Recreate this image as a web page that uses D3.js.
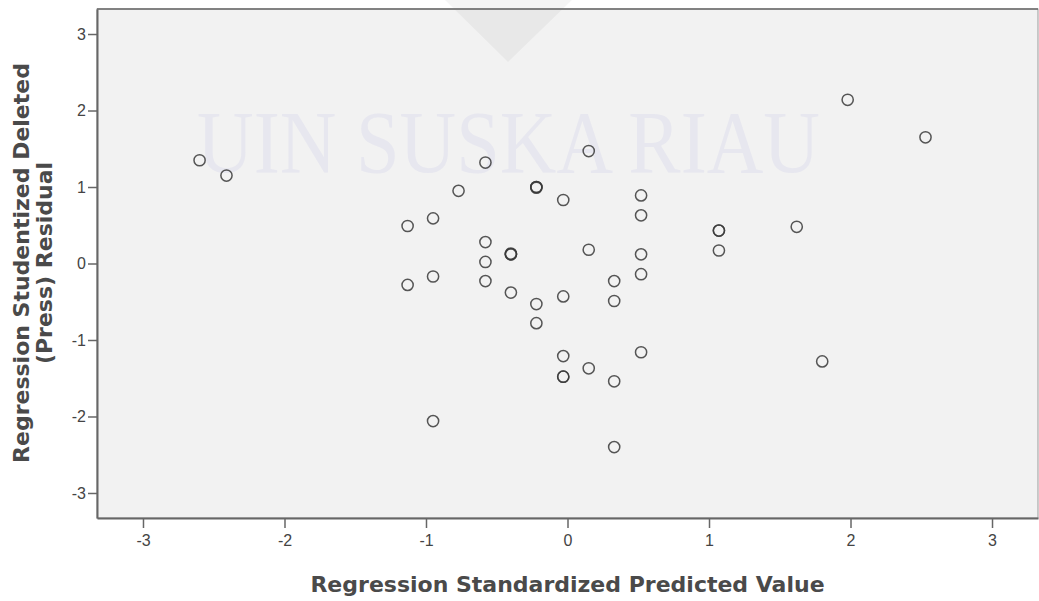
<!DOCTYPE html>
<html>
<head>
<meta charset="utf-8">
<script src="https://cdn.jsdelivr.net/npm/d3@7"></script>
<style>
  body { margin: 0; background: #fff; }
  svg { display: block; }
</style>
</head>
<body>
<script>
//Width and height
const w = 1039;
const h = 601;

//Predicted values (x) and deleted residuals (y)
var predicted = [-2.60, -2.41, -1.13, -1.13, -0.95, -0.95, -0.95, -0.77,
                 -0.58, -0.58, -0.58, -0.58, -0.40, -0.40, -0.40,
                 -0.22, -0.22, -0.22, -0.22, -0.03, -0.03, -0.03, -0.03, -0.03,
                 0.15, 0.15, 0.15, 0.33, 0.33, 0.33, 0.33,
                 0.52, 0.52, 0.52, 0.52, 0.52, 1.07, 1.07, 1.62, 1.80, 1.98, 2.53,
                 -0.22, -0.40, 1.07];
var residual  = [1.35, 1.15, 0.49, -0.28, 0.59, -0.17, -2.06, 0.95,
                 1.32, 0.28, 0.02, -0.23, 0.12, -0.38, 0.12,
                 1.00, -0.53, -0.78, 1.00, 0.83, -0.43, -1.21, -1.48, -1.48,
                 1.47, 0.18, -1.37, -0.23, -0.49, -1.54, -2.40,
                 0.89, 0.63, 0.12, -0.14, -1.16, 0.43, 0.17, 0.48, -1.28, 2.14, 1.65,
                 0.99, 0.13, 0.43];

var xTicks = [-3, -2, -1, 0, 1, 2, 3];
var yTicks = [-3, -2, -1, 0, 1, 2, 3];

var xTitle = "Regression Standardized Predicted Value";
var yTitle = ["Regression Studentized Deleted", "(Press) Residual"];
var watermark = "UIN SUSKA RIAU";

//Plot box
var boxL = 97, boxR = 1038, boxT = 9, boxB = 518;

var x = d3.scaleLinear().domain([-3.325, 3.325]).range([boxL, boxR]);
var y = d3.scaleLinear().domain([-3.327, 3.327]).range([boxB, boxT]);

//Create SVG element
var svg = d3.select("body")
			.append("svg")
			.attr("width", w)
			.attr("height", h);

//Plot background
svg.append("rect")
	.attr("x", boxL).attr("y", boxT)
	.attr("width", boxR - boxL).attr("height", boxB - boxT)
	.attr("fill", "#f2f2f2");

//Watermark: faint triangle and text from the source document
svg.append("path")
	.attr("d", "M445,0 L572,0 L508,62 Z")
	.attr("fill", "#000")
	.attr("opacity", 0.04);

svg.append("text")
	.attr("x", 197).attr("y", 172)
	.attr("textLength", 623)
	.attr("lengthAdjust", "spacingAndGlyphs")
	.style("font-family", "'Liberation Serif', 'DejaVu Serif', serif")
	.style("font-size", "88px")
	.attr("fill", "#e7e7ef")
	.text(watermark);

//Frame: light right edge, darker top edge
svg.append("rect")
	.attr("x", boxL).attr("y", boxT)
	.attr("width", boxR - boxL).attr("height", boxB - boxT)
	.attr("fill", "none")
	.attr("stroke", "#9a9a9a")
	.attr("stroke-width", 1);

svg.append("line")
	.attr("x1", boxL).attr("x2", boxR)
	.attr("y1", boxT).attr("y2", boxT)
	.attr("stroke", "#6a6a6a")
	.attr("stroke-width", 1.5);

//Axes
var yAxis = svg.append("g")
	.attr("transform", "translate(" + boxL + ",0)")
	.call(d3.axisLeft(y).tickValues(yTicks).tickSize(9).tickSizeOuter(0).tickPadding(2).tickFormat(d3.format("d")));

var xAxis = svg.append("g")
	.attr("transform", "translate(0," + boxB + ")")
	.call(d3.axisBottom(x).tickValues(xTicks).tickSize(10).tickSizeOuter(0).tickPadding(7).tickFormat(d3.format("d")));

[xAxis, yAxis].forEach(function(g) {
	g.attr("font-size", null).attr("font-family", null);
	g.select(".domain").attr("stroke", "#666").attr("stroke-width", 2);
	g.selectAll(".tick line").attr("stroke", "#666").attr("stroke-width", 1.5);
	g.selectAll(".tick text")
		.attr("fill", "#444")
		.style("font-family", "'Liberation Sans', Arial, sans-serif")
		.style("font-size", "16px")
		.text(function(d) { return d < 0 ? "-" + Math.abs(d) : d; });
});

//Points
svg.append("g")
	.selectAll("circle")
	.data(predicted.map(function(d, i) { return [d, residual[i]]; }))
	.enter()
	.append("circle")
	.attr("cx", function(d) { return x(d[0]); })
	.attr("cy", function(d) { return y(d[1]); })
	.attr("r", 5.6)
	.attr("fill", "none")
	.attr("stroke", "#3a3a3a")
	.attr("stroke-opacity", 0.85)
	.attr("stroke-width", 1.5);

//Axis titles
svg.append("text")
	.attr("x", (boxL + boxR) / 2)
	.attr("y", 592)
	.attr("text-anchor", "middle")
	.attr("fill", "#4a4a4a")
	.style("font-family", "'DejaVu Sans', sans-serif")
	.style("font-weight", "bold")
	.style("font-size", "22px")
	.text(xTitle);

svg.append("text")
	.attr("transform", "translate(37," + 263 + ") rotate(-90)")
	.attr("text-anchor", "middle")
	.attr("fill", "#4a4a4a")
	.style("font-family", "'DejaVu Sans', sans-serif")
	.style("font-weight", "bold")
	.style("font-size", "22px")
	.selectAll("tspan")
	.data(yTitle)
	.enter()
	.append("tspan")
	.attr("x", 0)
	.attr("y", function(d, i) { return i * 23 - 8; })
	.text(function(d) { return d; });
</script>
</body>
</html>
